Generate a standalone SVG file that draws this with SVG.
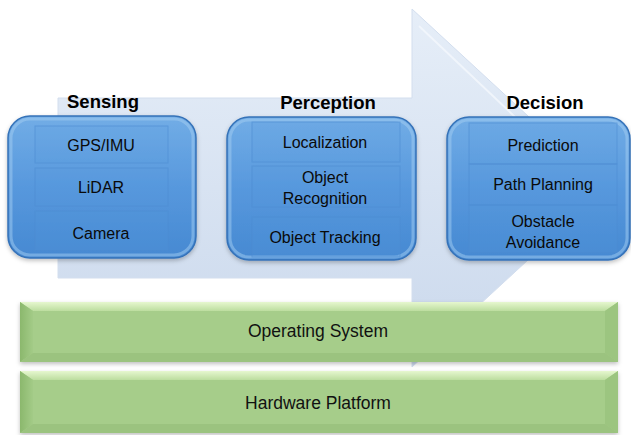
<svg xmlns="http://www.w3.org/2000/svg" width="631" height="435" viewBox="0 0 631 435">
<defs>
<linearGradient id="arrowGrad" x1="0" y1="0" x2="0" y2="1">
<stop offset="0" stop-color="#e6eef8"/>
<stop offset="1" stop-color="#cad8ec"/>
</linearGradient>
<linearGradient id="blueGrad" x1="0" y1="0" x2="0" y2="1">
<stop offset="0" stop-color="#72ade6"/>
<stop offset="0.5" stop-color="#5798dd"/>
<stop offset="1" stop-color="#4689d2"/>
</linearGradient>
<linearGradient id="greenTop" x1="0" y1="0" x2="0" y2="1">
<stop offset="0" stop-color="#e6f7cf"/>
<stop offset="1" stop-color="#bcdd9f"/>
</linearGradient>
<linearGradient id="greenLeft" x1="0" y1="0" x2="1" y2="0">
<stop offset="0" stop-color="#8bb86d"/>
<stop offset="1" stop-color="#a3cb87"/>
</linearGradient>
<filter id="shadow" x="-10%" y="-10%" width="120%" height="130%">
<feDropShadow dx="0" dy="2" stdDeviation="2" flood-color="#000" flood-opacity="0.25"/>
</filter>
</defs>
<style>
.title{font-family:"Liberation Sans",Arial,sans-serif;font-weight:bold;font-size:18.5px;fill:#000;text-anchor:middle}
.item{font-family:"Liberation Sans",Arial,sans-serif;font-size:16px;fill:#0a0a0a;text-anchor:middle}
.layer{font-family:"Liberation Sans",Arial,sans-serif;font-size:17.5px;fill:#111;text-anchor:middle}
.box{fill:url(#blueGrad);stroke:#3572b8;stroke-width:1.5}
.rim{fill:none;stroke:#a3cdf2;stroke-opacity:0.5;stroke-width:3}
.row{fill:#5a9ade;fill-opacity:0.15;stroke:#4d8ed3;stroke-opacity:0.6;stroke-width:1}
.gmain{fill:#a6cd8a}
.gtop{fill:url(#greenTop)}
.gleft{fill:url(#greenLeft)}
.gright{fill:#9cc580}
.gbot{fill:#9bc37f}
</style>
<rect width="631" height="435" fill="#ffffff"/>

<g id="flow-arrow">
<polygon points="58,98 412,98 412,9 606,188 412,367 412,278 58,278" fill="url(#arrowGrad)" stroke="#d3deee" stroke-width="1"/>
<polyline points="419,26 590,188" fill="none" stroke="#f4f8fc" stroke-width="2" opacity="0.8"/>
</g>

<g id="sensing">
<text class="title" x="103" y="108">Sensing</text>
<rect class="box" x="8" y="116" width="188" height="142" rx="22" filter="url(#shadow)"/>
<rect class="rim" x="11" y="119" width="182" height="136" rx="19"/>
<rect class="row" x="35" y="126" width="133" height="37"/>
<rect class="row" x="35" y="168" width="133" height="38"/>
<rect class="row" x="35" y="211" width="133" height="39"/>
<text class="item" x="101" y="151">GPS/IMU</text>
<text class="item" x="101" y="193">LiDAR</text>
<text class="item" x="101" y="239">Camera</text>
</g>

<g id="perception">
<text class="title" x="328" y="109">Perception</text>
<rect class="box" x="227" y="117" width="189" height="143" rx="22" filter="url(#shadow)"/>
<rect class="rim" x="230" y="120" width="183" height="137" rx="19"/>
<rect class="row" x="252" y="122" width="148" height="40"/>
<rect class="row" x="252" y="166" width="148" height="41"/>
<rect class="row" x="252" y="217" width="148" height="40"/>
<text class="item" x="325" y="148">Localization</text>
<text class="item" x="325" y="183">Object</text>
<text class="item" x="325" y="204">Recognition</text>
<text class="item" x="325" y="243">Object Tracking</text>
</g>

<g id="decision">
<text class="title" x="545" y="109">Decision</text>
<rect class="box" x="447" y="117" width="183" height="143" rx="22" filter="url(#shadow)"/>
<rect class="rim" x="450" y="120" width="177" height="137" rx="19"/>
<rect class="row" x="469" y="123" width="148" height="41"/>
<rect class="row" x="469" y="164" width="148" height="41"/>
<rect class="row" x="469" y="205" width="148" height="47"/>
<text class="item" x="543" y="151">Prediction</text>
<text class="item" x="543" y="190">Path Planning</text>
<text class="item" x="543" y="227">Obstacle</text>
<text class="item" x="543" y="248">Avoidance</text>
</g>

<g id="operating-system">
<rect class="gmain" x="20" y="302" width="598" height="60" filter="url(#shadow)"/>
<polygon class="gtop" points="20,302 618,302 605,311 33,311"/>
<polygon class="gleft" points="20,302 33,311 33,353 20,362"/>
<polygon class="gright" points="618,302 618,362 605,353 605,311"/>
<polygon class="gbot" points="20,362 618,362 605,353 33,353"/>
<text class="layer" x="318" y="337">Operating System</text>
</g>

<g id="hardware-platform">
<rect class="gmain" x="20" y="371" width="598" height="62" filter="url(#shadow)"/>
<polygon class="gtop" points="20,371 618,371 605,380 33,380"/>
<polygon class="gleft" points="20,371 33,380 33,424 20,433"/>
<polygon class="gright" points="618,371 618,433 605,424 605,380"/>
<polygon class="gbot" points="20,433 618,433 605,424 33,424"/>
<text class="layer" x="318" y="409">Hardware Platform</text>
</g>

<g id="connectors"></g>
</svg>
